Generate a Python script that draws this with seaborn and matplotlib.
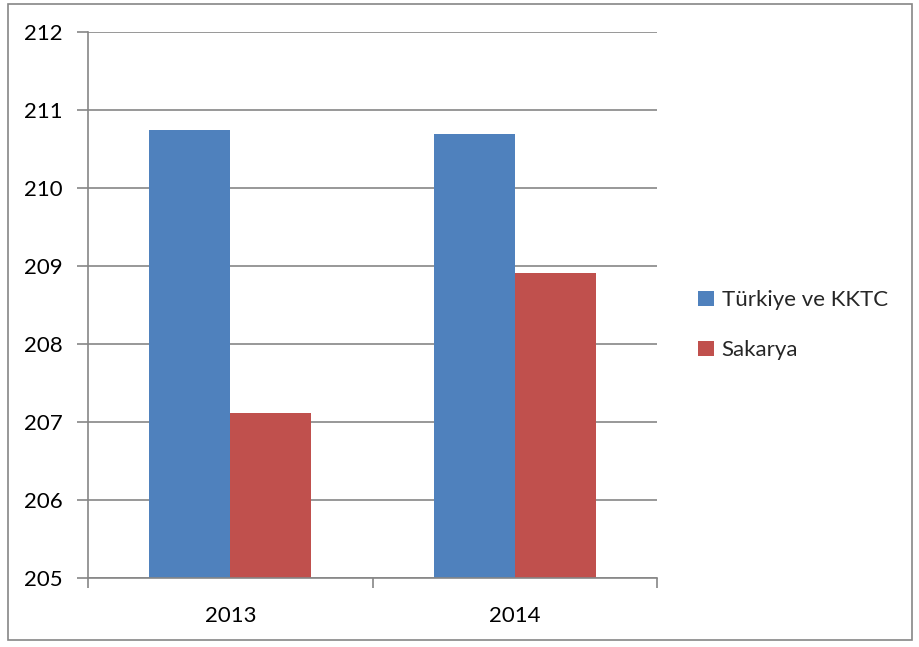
import matplotlib
matplotlib.use("Agg")
import matplotlib.pyplot as plt
import seaborn as sns
import pandas as pd
from matplotlib.patches import Rectangle, Patch

years = ["2013", "2014"]
series_names = ["Türkiye ve KKTC", "Sakarya"]
turkiye = [210.74, 210.69]
sakarya = [207.11, 208.91]
colors = ["#4F81BD", "#C0504D"]

df = pd.DataFrame({
    "Yıl": years * 2,
    "Seri": [series_names[0]] * 2 + [series_names[1]] * 2,
    "Değer": turkiye + sakarya,
})

sns.set_theme(style="white")
plt.rcParams["font.family"] = ["Lato", "DejaVu Sans"]

fig = plt.figure(figsize=(9.19, 6.47), dpi=100)
ax = fig.add_axes([0.0958, 0.1066, 0.6191, 0.8439])

sns.barplot(data=df, x="Yıl", y="Değer", hue="Seri", palette=colors,
            width=0.571, ax=ax, saturation=1, legend=False)
for p in ax.patches:
    p.set_linewidth(0)

fs = 16
ax.set_ylim(205, 212)
ax.set_xlim(-0.5, 1.5)
ax.set_yticks(range(205, 213))
ax.set_xlabel("")
ax.set_ylabel("")
ax.yaxis.grid(True, color="#868686", linewidth=1.2)
ax.set_axisbelow(True)
for s in ["top", "right"]:
    ax.spines[s].set_visible(False)
for s in ["left", "bottom"]:
    ax.spines[s].set_color("#868686")
    ax.spines[s].set_linewidth(1.2)
ax.tick_params(axis="y", which="both", left=True, length=8, width=1.2, color="#868686",
               labelsize=fs, pad=10, labelcolor="black")
ax.tick_params(axis="x", which="major", bottom=False, labelsize=fs, pad=14, labelcolor="black")
ax.set_xticks([-0.5, 0.5, 1.5], minor=True)
ax.tick_params(axis="x", which="minor", bottom=True, length=7, width=1.2, color="#868686")

handles = [Patch(facecolor=c, edgecolor="none") for c in colors]
fig.legend(handles, series_names, loc="center left", bbox_to_anchor=(0.738, 0.497),
           frameon=False, fontsize=fs, handlelength=0.7, handleheight=0.7,
           handletextpad=0.35, labelspacing=1.35)

fig.patches.append(Rectangle((0.009, 0.011), 0.983, 0.983, transform=fig.transFigure,
                             fill=False, edgecolor="#868686", linewidth=1.2))

fig.savefig("out.png", dpi=100, facecolor="white")
